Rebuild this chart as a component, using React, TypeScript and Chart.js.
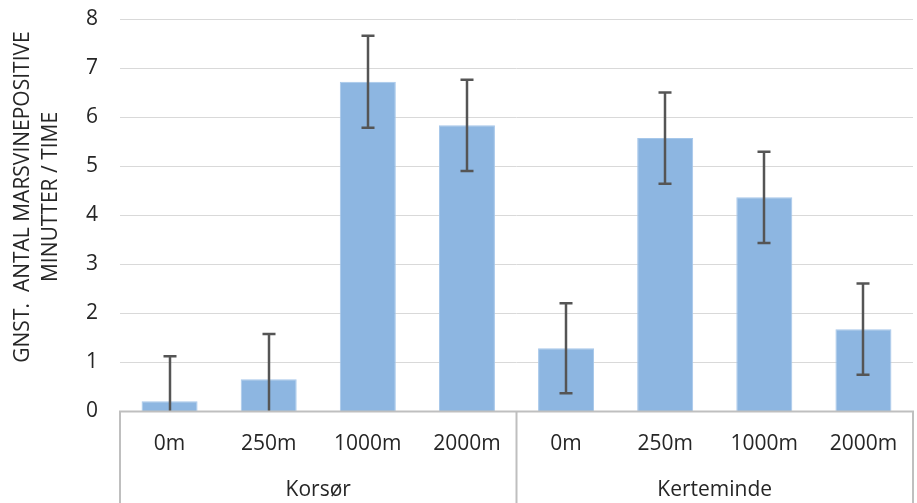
import React, { useEffect, useRef } from 'react';
import { Chart, registerables } from 'chart.js';

Chart.register(...registerables);

const groups = ['Korsør', 'Kerteminde'];
const distances = ['0m', '250m', '1000m', '2000m'];
const korsorValues = [0.21, 0.66, 6.73, 5.84];
const kertemindeValues = [1.29, 5.58, 4.37, 1.68];
const korsorErrors = [0.92, 0.92, 0.94, 0.93];
const kertemindeErrors = [0.92, 0.93, 0.93, 0.93];
const yTicks = [0, 1, 2, 3, 4, 5, 6, 7, 8];
const yTitleLines = ['GNST.  ANTAL MARSVINEPOSITIVE', 'MINUTTER / TIME'];

const FONT = "'Open Sans', sans-serif";
const TEXT = '#262626';
const AXIS = '#bfbfbf';

const labels = groups.flatMap(() => distances);
const values = [...korsorValues, ...kertemindeValues];
const errors = [...korsorErrors, ...kertemindeErrors];

const decorPlugin = {
  id: 'decor',
  afterDatasetsDraw(chart: any) {
    const { ctx, chartArea, scales } = chart;
    const y = scales.y;
    const x = scales.x;
    const meta = chart.getDatasetMeta(0);
    // error bars
    ctx.save();
    ctx.beginPath();
    ctx.rect(chartArea.left, chartArea.top - 30, chartArea.right - chartArea.left, chartArea.bottom - chartArea.top + 30);
    ctx.clip();
    ctx.strokeStyle = '#555555';
    ctx.lineWidth = 2.5;
    meta.data.forEach((el: any, i: number) => {
      const v = values[i];
      const e = errors[i];
      const top = y.getPixelForValue(v + e);
      const bot = y.getPixelForValue(v - e);
      const cx = Math.round(el.x);
      const half = 6.5;
      ctx.beginPath();
      ctx.moveTo(cx, top);
      ctx.lineTo(cx, bot);
      ctx.moveTo(cx - half, top);
      ctx.lineTo(cx + half, top);
      ctx.moveTo(cx - half, bot);
      ctx.lineTo(cx + half, bot);
      ctx.stroke();
    });
    ctx.restore();

    // axis box lines
    ctx.save();
    ctx.strokeStyle = AXIS;
    ctx.lineWidth = 2;
    const bottom = chart.height;
    const yb = chartArea.bottom;
    ctx.beginPath();
    ctx.moveTo(chartArea.left - 1, yb);
    ctx.lineTo(chartArea.right + 1, yb);
    const n = distances.length;
    const bounds: number[] = [];
    for (let g = 0; g <= groups.length; g++) {
      bounds.push(x.getPixelForValue(g * n - 0.5));
    }
    bounds.forEach((bx) => {
      ctx.moveTo(bx, yb);
      ctx.lineTo(bx, bottom);
    });
    ctx.stroke();

    // group labels
    ctx.fillStyle = TEXT;
    ctx.font = `21px ${FONT}`;
    ctx.textAlign = 'center';
    ctx.textBaseline = 'middle';
    groups.forEach((g, gi) => {
      const cx = (bounds[gi] + bounds[gi + 1]) / 2;
      ctx.fillText(g, cx, 490);
    });

    // y title
    const cy = 197;
    ctx.font = `21px ${FONT}`;
    const xs = [23, 51.5];
    yTitleLines.forEach((line, li) => {
      ctx.save();
      ctx.translate(xs[li], cy);
      ctx.rotate(-Math.PI / 2);
      ctx.fillText(line, 0, 0);
      ctx.restore();
    });
    ctx.restore();
  },
};

export default function App() {
  const ref = useRef<HTMLCanvasElement | null>(null);
  useEffect(() => {
    if (!ref.current) return;
    const chart = new Chart(ref.current, {
      type: 'bar',
      data: {
        labels,
        datasets: [
          {
            data: values,
            backgroundColor: '#8db6e1',
            borderColor: '#a6c7ea',
            borderWidth: 1,
            barPercentage: 0.565,
            categoryPercentage: 1,
          },
        ],
      },
      options: {
        animation: false,
        responsive: false,
        devicePixelRatio: 1,
        layout: { padding: { top: 19.5, right: 4, left: 0, bottom: 0 } },
        plugins: {
          legend: { display: false },
          tooltip: { enabled: false },
          title: { display: false },
        },
        scales: {
          x: {
            grid: { display: false, drawTicks: false },
            border: { display: false },
            ticks: {
              color: TEXT,
              font: { family: FONT, size: 21 },
              padding: 20,
              maxRotation: 0,
              autoSkip: false,
            },
            afterFit: (s: any) => {
              s.height = 91.5;
              s.paddingLeft = 0;
              s.paddingRight = 0;
            },
          },
          y: {
            min: 0,
            max: 8,
            afterBuildTicks: (s: any) => {
              s.ticks = yTicks.map((v) => ({ value: v }));
            },
            grid: { color: '#d9d9d9', lineWidth: 1, drawTicks: false },
            border: { display: false },
            ticks: {
              color: TEXT,
              font: { family: FONT, size: 21 },
              padding: 22,
            },
            afterFit: (s: any) => {
              s.width = 120;
              s.paddingTop = 0;
              s.paddingBottom = 0;
            },
          },
        },
      },
      plugins: [decorPlugin],
    });
    return () => chart.destroy();
  }, []);
  return (
    <div style={{ position: 'fixed', left: 0, top: 0, width: 917, height: 503, background: '#fff' }}>
      <canvas ref={ref} width={917} height={503} style={{ display: 'block' }} />
    </div>
  );
}
